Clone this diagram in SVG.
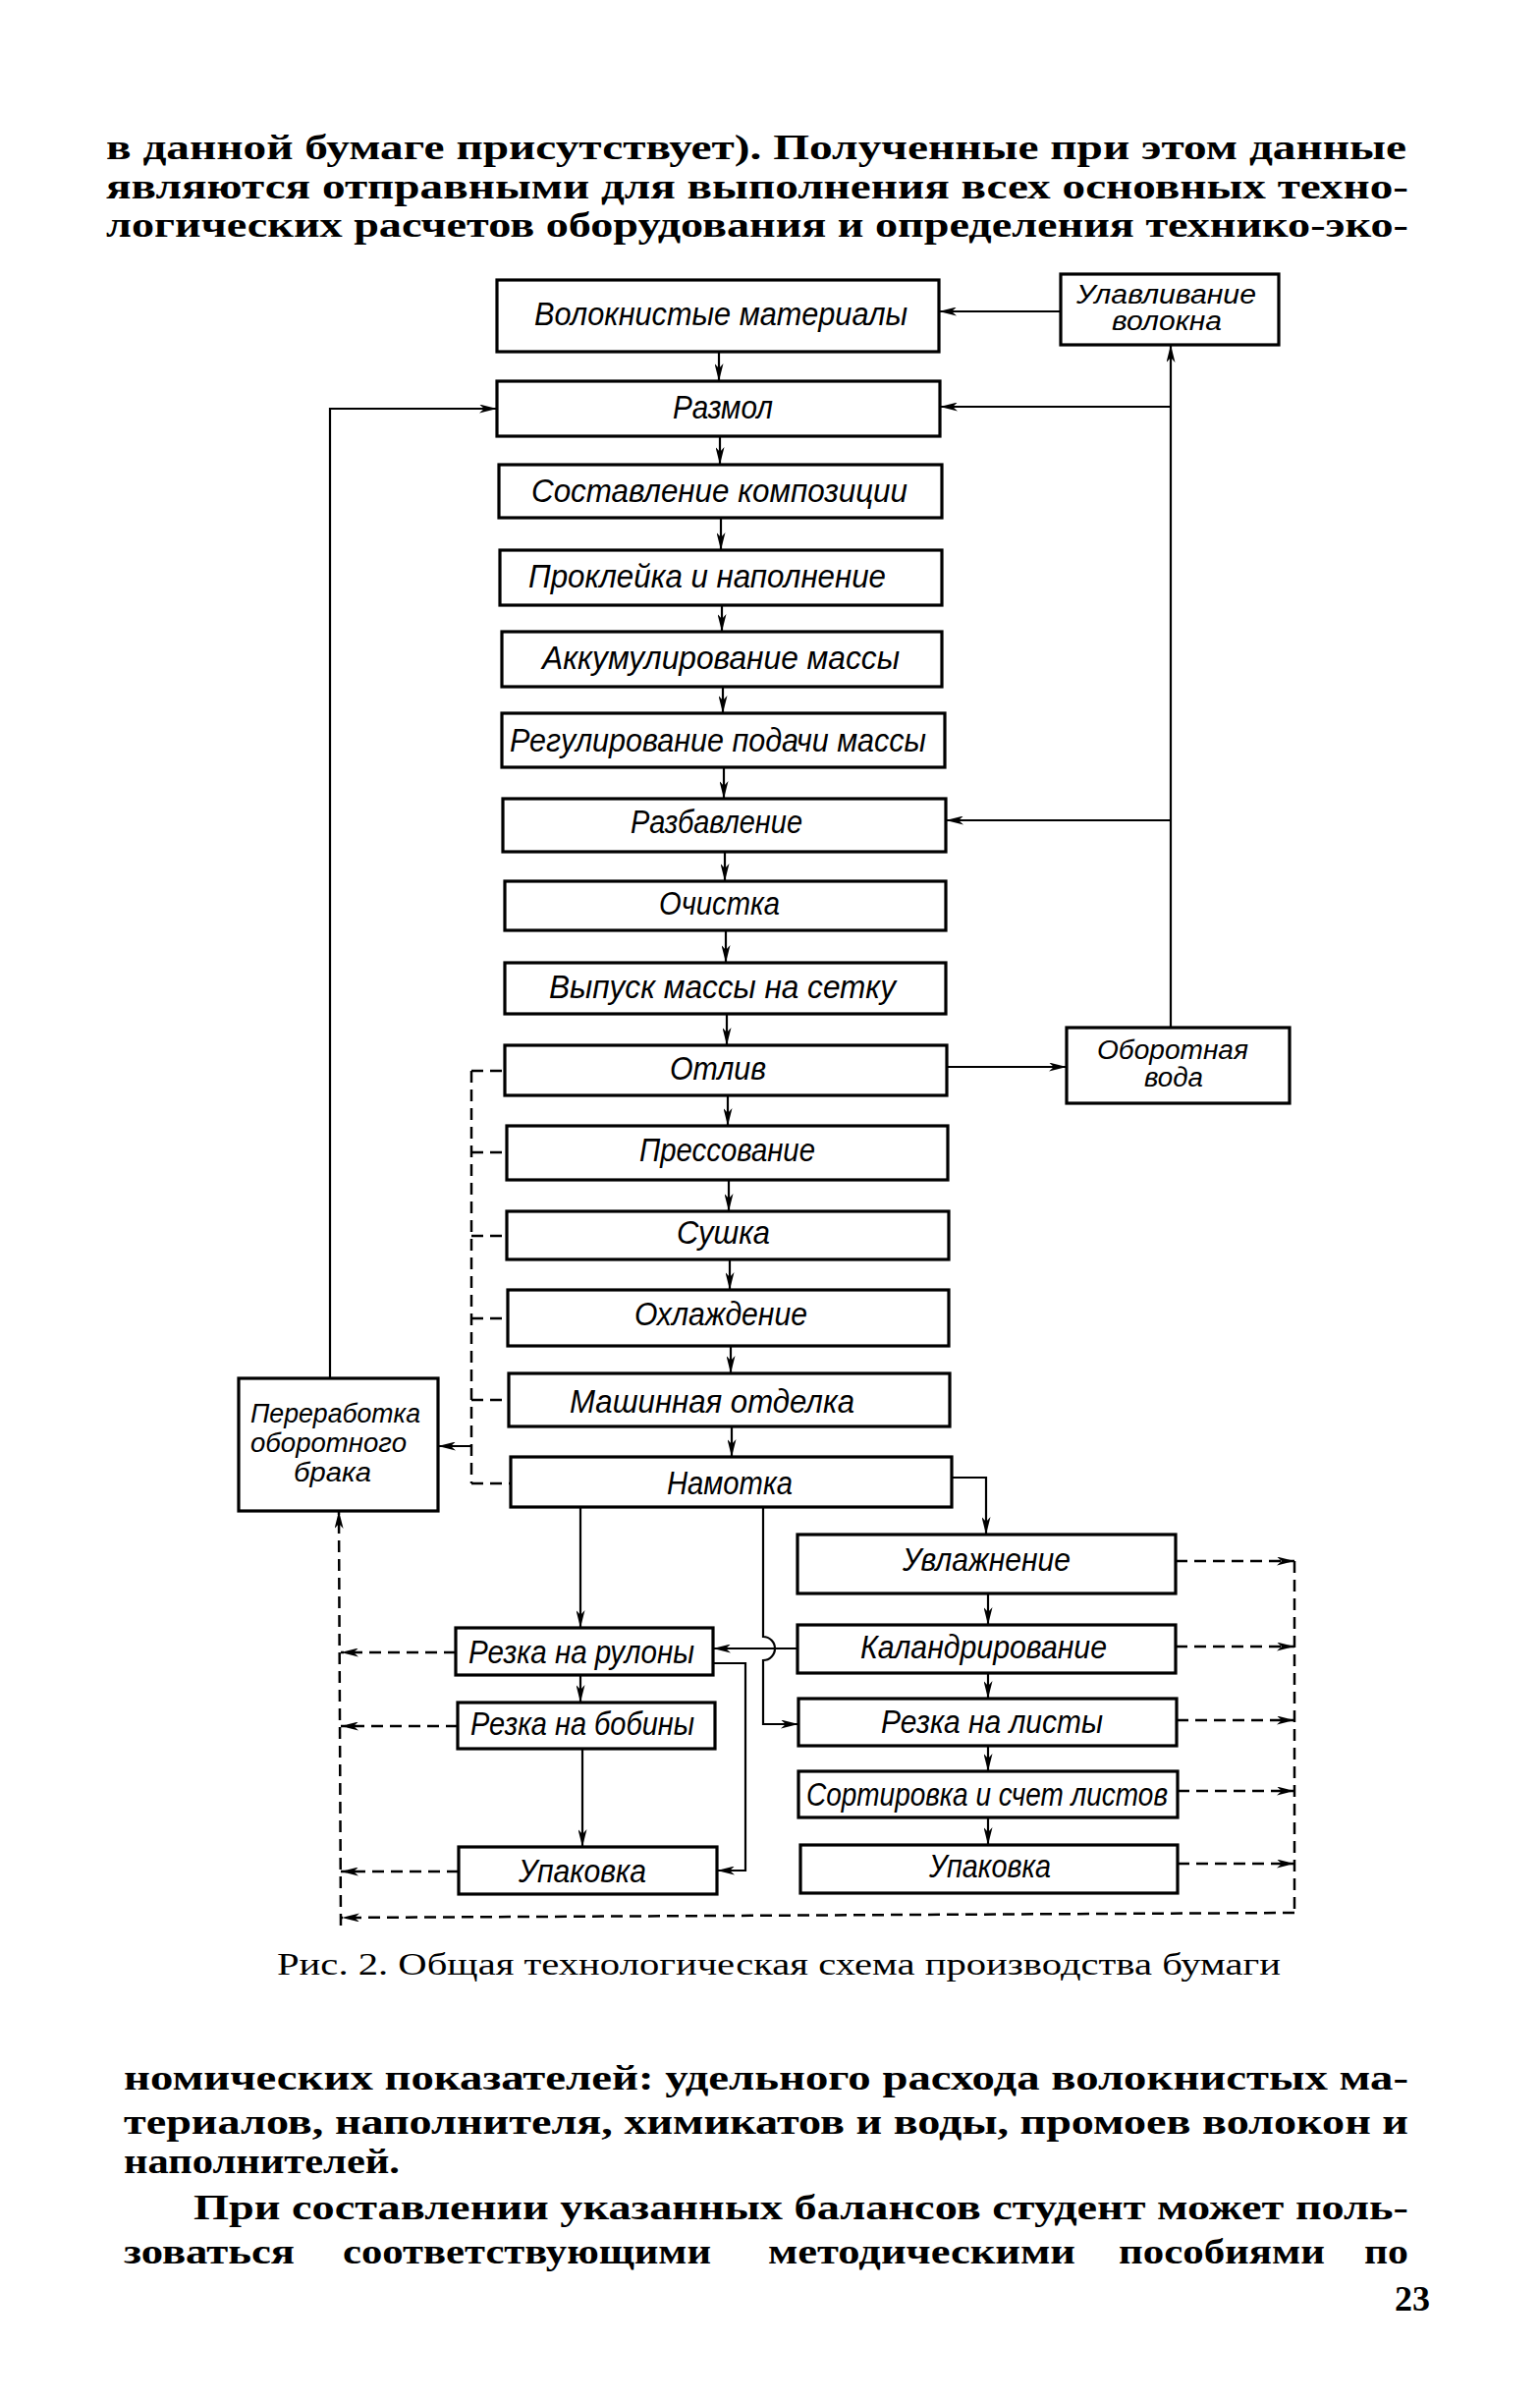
<svg xmlns="http://www.w3.org/2000/svg" width="1568" height="2445" viewBox="0 0 1568 2445">
<defs>
<style>
.box{fill:#fff;stroke:#000;stroke-width:3.2}
.ln{fill:none;stroke:#000;stroke-width:2.2}
.dl{fill:none;stroke:#000;stroke-width:2.5;stroke-dasharray:12 7}
.lb{font-family:"Liberation Sans","DejaVu Sans",sans-serif;font-style:italic;font-size:33px;fill:#000}
.sm{font-size:27px}
.pg{font-family:"Liberation Serif","DejaVu Serif",serif;font-weight:bold;font-size:35px;fill:#000}
.cap{font-family:"Liberation Serif","DejaVu Serif",serif;font-size:32px;fill:#000}
</style>
<marker id="ah" viewBox="0 0 18 9" refX="18" refY="4.5" markerWidth="18" markerHeight="9" markerUnits="userSpaceOnUse" orient="auto">
<path d="M0,0 L18,4.5 L0,9 L5,4.5 z" fill="#000"/>
</marker>
</defs>
<rect width="1568" height="2445" fill="#fff"/>

<g id="page-text">
<text class="pg" x="108" y="162" textLength="1324" lengthAdjust="spacingAndGlyphs">в данной бумаге присутствует). Полученные при этом данные</text>
<text class="pg" x="108" y="202" textLength="1326" lengthAdjust="spacingAndGlyphs">являются отправными для выполнения всех основных техно-</text>
<text class="pg" x="108" y="241" textLength="1326" lengthAdjust="spacingAndGlyphs">логических расчетов оборудования и определения технико-эко-</text>
<text class="cap" x="282" y="2010" textLength="1022" lengthAdjust="spacingAndGlyphs">Рис. 2. Общая технологическая схема производства бумаги</text>
<text class="pg" x="126" y="2127" textLength="1308" lengthAdjust="spacingAndGlyphs">номических показателей: удельного расхода волокнистых ма-</text>
<text class="pg" x="126" y="2172" textLength="1308" lengthAdjust="spacingAndGlyphs">териалов, наполнителя, химикатов и воды, промоев волокон и</text>
<text class="pg" x="126" y="2212" textLength="281" lengthAdjust="spacingAndGlyphs">наполнителей.</text>
<text class="pg" x="197" y="2259" textLength="1237" lengthAdjust="spacingAndGlyphs">При составлении указанных балансов студент может поль-</text>
<text class="pg" x="126" y="2304" textLength="174" lengthAdjust="spacingAndGlyphs">зоваться</text>
<text class="pg" x="349" y="2304" textLength="375" lengthAdjust="spacingAndGlyphs">соответствующими</text>
<text class="pg" x="782" y="2304" textLength="313" lengthAdjust="spacingAndGlyphs">методическими</text>
<text class="pg" x="1139" y="2304" textLength="210" lengthAdjust="spacingAndGlyphs">пособиями</text>
<text class="pg" x="1389" y="2304" textLength="45" lengthAdjust="spacingAndGlyphs">по</text>
<text class="pg" x="1420" y="2352" textLength="36" lengthAdjust="spacingAndGlyphs">23</text>
</g>

<g id="connectors">
<line class="ln" x1="732" y1="358" x2="732" y2="388" marker-end="url(#ah)"/>
<line class="ln" x1="733" y1="444" x2="733" y2="473" marker-end="url(#ah)"/>
<line class="ln" x1="734" y1="527" x2="734" y2="560" marker-end="url(#ah)"/>
<line class="ln" x1="735" y1="616" x2="735" y2="643" marker-end="url(#ah)"/>
<line class="ln" x1="736" y1="699" x2="736" y2="726" marker-end="url(#ah)"/>
<line class="ln" x1="737" y1="781" x2="737" y2="813" marker-end="url(#ah)"/>
<line class="ln" x1="738" y1="867" x2="738" y2="897" marker-end="url(#ah)"/>
<line class="ln" x1="739" y1="947" x2="739" y2="980" marker-end="url(#ah)"/>
<line class="ln" x1="740" y1="1032" x2="740" y2="1064" marker-end="url(#ah)"/>
<line class="ln" x1="741" y1="1115" x2="741" y2="1146" marker-end="url(#ah)"/>
<line class="ln" x1="742" y1="1201" x2="742" y2="1233" marker-end="url(#ah)"/>
<line class="ln" x1="743" y1="1282" x2="743" y2="1313" marker-end="url(#ah)"/>
<line class="ln" x1="744" y1="1370" x2="744" y2="1398" marker-end="url(#ah)"/>
<line class="ln" x1="745" y1="1452" x2="745" y2="1483" marker-end="url(#ah)"/>
<line class="ln" x1="1080" y1="317" x2="956" y2="317" marker-end="url(#ah)"/>
<line class="ln" x1="1192" y1="1046" x2="1192" y2="351" marker-end="url(#ah)"/>
<line class="ln" x1="1192" y1="414" x2="957" y2="414" marker-end="url(#ah)"/>
<line class="ln" x1="1192" y1="835" x2="963" y2="835" marker-end="url(#ah)"/>
<line class="ln" x1="964" y1="1086" x2="1086" y2="1086" marker-end="url(#ah)"/>
<polyline class="ln" points="336,1403 336,416 506,416" marker-end="url(#ah)"/>
<line class="dl" x1="480" y1="1090" x2="480" y2="1510"/>
<line class="dl" x1="480" y1="1090" x2="514" y2="1090"/>
<line class="dl" x1="480" y1="1173" x2="516" y2="1173"/>
<line class="dl" x1="480" y1="1258" x2="516" y2="1258"/>
<line class="dl" x1="480" y1="1342" x2="517" y2="1342"/>
<line class="dl" x1="480" y1="1425" x2="518" y2="1425"/>
<line class="dl" x1="480" y1="1510" x2="520" y2="1510"/>
<line class="ln" x1="480" y1="1472" x2="446" y2="1472" marker-end="url(#ah)"/>
<polyline class="ln" points="969,1504 1004,1504 1004,1562" marker-end="url(#ah)"/>
<line class="ln" x1="1006" y1="1622" x2="1006" y2="1654" marker-end="url(#ah)"/>
<line class="ln" x1="1006" y1="1703" x2="1006" y2="1729" marker-end="url(#ah)"/>
<line class="ln" x1="1006" y1="1777" x2="1006" y2="1803" marker-end="url(#ah)"/>
<line class="ln" x1="1006" y1="1850" x2="1006" y2="1878" marker-end="url(#ah)"/>
<line class="ln" x1="591" y1="1534" x2="591" y2="1657" marker-end="url(#ah)"/>
<line class="ln" x1="591" y1="1705" x2="591" y2="1733" marker-end="url(#ah)"/>
<line class="ln" x1="593" y1="1780" x2="593" y2="1880" marker-end="url(#ah)"/>
<path class="ln" d="M777,1534 L777,1666 A12,12 0 0 1 777,1690 L777,1755 L813,1755" marker-end="url(#ah)"/>
<line class="ln" x1="812" y1="1678" x2="726" y2="1678" marker-end="url(#ah)"/>
<polyline class="ln" points="726,1693 759,1693 759,1904 730,1904" marker-end="url(#ah)"/>
<line class="dl" x1="1197" y1="1589" x2="1318" y2="1589" marker-end="url(#ah)"/>
<line class="dl" x1="1197" y1="1676" x2="1318" y2="1676" marker-end="url(#ah)"/>
<line class="dl" x1="1198" y1="1751" x2="1318" y2="1751" marker-end="url(#ah)"/>
<line class="dl" x1="1199" y1="1823" x2="1318" y2="1823" marker-end="url(#ah)"/>
<line class="dl" x1="1199" y1="1897" x2="1318" y2="1897" marker-end="url(#ah)"/>
<line class="dl" x1="1318" y1="1589" x2="1318" y2="1947"/>
<line class="dl" x1="1318" y1="1947" x2="348" y2="1952" marker-end="url(#ah)"/>
<line class="dl" x1="347" y1="1960" x2="345" y2="1538" marker-end="url(#ah)"/>
<line class="dl" x1="464" y1="1682" x2="347" y2="1682" marker-end="url(#ah)"/>
<line class="dl" x1="466" y1="1757" x2="347" y2="1757" marker-end="url(#ah)"/>
<line class="dl" x1="467" y1="1905" x2="347" y2="1905" marker-end="url(#ah)"/>
</g>

<g id="n-volokn"><rect class="box" x="506" y="285" width="450" height="73"/><text class="lb" x="544" y="331" textLength="380" lengthAdjust="spacingAndGlyphs">Волокнистые материалы</text></g>
<g id="n-razmol"><rect class="box" x="506" y="388" width="451" height="56"/><text class="lb" x="685" y="426" textLength="102" lengthAdjust="spacingAndGlyphs">Размол</text></g>
<g id="n-sostav"><rect class="box" x="508" y="473" width="451" height="54"/><text class="lb" x="541" y="511" textLength="383" lengthAdjust="spacingAndGlyphs">Составление композиции</text></g>
<g id="n-prokl"><rect class="box" x="509" y="560" width="450" height="56"/><text class="lb" x="538" y="598" textLength="364" lengthAdjust="spacingAndGlyphs">Проклейка и наполнение</text></g>
<g id="n-akkum"><rect class="box" x="511" y="643" width="448" height="56"/><text class="lb" x="552" y="681" textLength="364" lengthAdjust="spacingAndGlyphs">Аккумулирование массы</text></g>
<g id="n-regul"><rect class="box" x="511" y="726" width="451" height="55"/><text class="lb" x="519" y="765" textLength="424" lengthAdjust="spacingAndGlyphs">Регулирование подачи массы</text></g>
<g id="n-razbav"><rect class="box" x="512" y="813" width="451" height="54"/><text class="lb" x="642" y="848" textLength="175" lengthAdjust="spacingAndGlyphs">Разбавление</text></g>
<g id="n-ochist"><rect class="box" x="514" y="897" width="449" height="50"/><text class="lb" x="671" y="931" textLength="123" lengthAdjust="spacingAndGlyphs">Очистка</text></g>
<g id="n-vypusk"><rect class="box" x="514" y="980" width="449" height="52"/><text class="lb" x="559" y="1016" textLength="353" lengthAdjust="spacingAndGlyphs">Выпуск массы на сетку</text></g>
<g id="n-otliv"><rect class="box" x="514" y="1064" width="450" height="51"/><text class="lb" x="682" y="1099" textLength="98" lengthAdjust="spacingAndGlyphs">Отлив</text></g>
<g id="n-press"><rect class="box" x="516" y="1146" width="449" height="55"/><text class="lb" x="651" y="1182" textLength="179" lengthAdjust="spacingAndGlyphs">Прессование</text></g>
<g id="n-sushka"><rect class="box" x="516" y="1233" width="450" height="49"/><text class="lb" x="689" y="1266" textLength="95" lengthAdjust="spacingAndGlyphs">Сушка</text></g>
<g id="n-okhl"><rect class="box" x="517" y="1313" width="449" height="57"/><text class="lb" x="646" y="1349" textLength="176" lengthAdjust="spacingAndGlyphs">Охлаждение</text></g>
<g id="n-mash"><rect class="box" x="518" y="1398" width="449" height="54"/><text class="lb" x="580" y="1438" textLength="290" lengthAdjust="spacingAndGlyphs">Машинная отделка</text></g>
<g id="n-namotka"><rect class="box" x="520" y="1483" width="449" height="51"/><text class="lb" x="679" y="1521" textLength="128" lengthAdjust="spacingAndGlyphs">Намотка</text></g>
<g id="n-ulavl"><rect class="box" x="1080" y="279" width="222" height="72"/><text class="lb sm" x="1096" y="309" textLength="183" lengthAdjust="spacingAndGlyphs">Улавливание</text><text class="lb sm" x="1132" y="336" textLength="112" lengthAdjust="spacingAndGlyphs">волокна</text></g>
<g id="n-oborot"><rect class="box" x="1086" y="1046" width="227" height="77"/><text class="lb sm" x="1117" y="1078" textLength="154" lengthAdjust="spacingAndGlyphs">Оборотная</text><text class="lb sm" x="1165" y="1106" textLength="60" lengthAdjust="spacingAndGlyphs">вода</text></g>
<g id="n-pererab"><rect class="box" x="243" y="1403" width="203" height="135"/><text class="lb sm" x="255" y="1448" textLength="173" lengthAdjust="spacingAndGlyphs">Переработка</text><text class="lb sm" x="255" y="1478" textLength="159" lengthAdjust="spacingAndGlyphs">оборотного</text><text class="lb sm" x="299" y="1508" textLength="79" lengthAdjust="spacingAndGlyphs">брака</text></g>
<g id="n-uvlazh"><rect class="box" x="812" y="1562" width="385" height="60"/><text class="lb" x="919" y="1599" textLength="171" lengthAdjust="spacingAndGlyphs">Увлажнение</text></g>
<g id="n-kaland"><rect class="box" x="812" y="1654" width="385" height="49"/><text class="lb" x="876" y="1688" textLength="251" lengthAdjust="spacingAndGlyphs">Каландрирование</text></g>
<g id="n-rezlist"><rect class="box" x="813" y="1729" width="385" height="48"/><text class="lb" x="897" y="1764" textLength="226" lengthAdjust="spacingAndGlyphs">Резка на листы</text></g>
<g id="n-sort"><rect class="box" x="813" y="1803" width="386" height="47"/><text class="lb" x="821" y="1838" textLength="368" lengthAdjust="spacingAndGlyphs">Сортировка и счет листов</text></g>
<g id="n-upak-r"><rect class="box" x="815" y="1878" width="384" height="49"/><text class="lb" x="946" y="1911" textLength="124" lengthAdjust="spacingAndGlyphs">Упаковка</text></g>
<g id="n-rezrul"><rect class="box" x="464" y="1657" width="262" height="48"/><text class="lb" x="477" y="1693" textLength="230" lengthAdjust="spacingAndGlyphs">Резка на рулоны</text></g>
<g id="n-rezbob"><rect class="box" x="466" y="1733" width="262" height="47"/><text class="lb" x="479" y="1766" textLength="228" lengthAdjust="spacingAndGlyphs">Резка на бобины</text></g>
<g id="n-upak-l"><rect class="box" x="467" y="1880" width="263" height="48"/><text class="lb" x="528" y="1916" textLength="130" lengthAdjust="spacingAndGlyphs">Упаковка</text></g>
</svg>
